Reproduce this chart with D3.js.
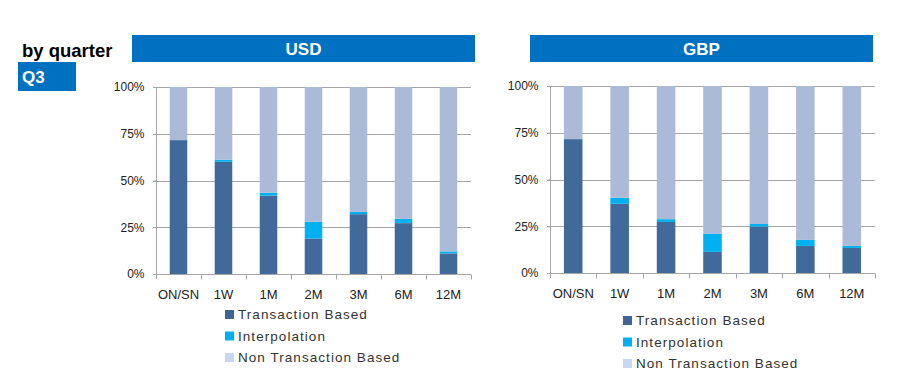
<!DOCTYPE html>
<html><head><meta charset="utf-8">
<script src="https://cdn.jsdelivr.net/npm/d3@7"></script>
<style>body{margin:0;background:#fff;}svg{display:block;}</style>
</head><body><svg id="c" width="914" height="381"></svg>
<script>
const categories = ["ON/SN","1W","1M","2M","3M","6M","12M"];
const seriesNames = ["Transaction Based","Interpolation","Non Transaction Based"];
const yTicks = [0, 25, 50, 75, 100];
const usdTransaction = [71.6, 60.0, 41.9, 19.0, 32.0, 27.2, 11.0];
const usdInterpolation = [0, 1.1, 1.6, 8.9, 1.2, 2.3, 1.1];
const gbpTransaction = [71.6, 37.0, 27.3, 11.3, 24.8, 14.5, 13.4];
const gbpInterpolation = [0, 3.2, 1.5, 9.8, 1.4, 3.2, 1.1];

const colors = ["#416A9B", "#00B0F0", "#AABAD7"];
const legendColors = ["#3F6497", "#00B0F0", "#C6D7EF"];
const font = "'Liberation Sans', Arial, sans-serif";
const svg = d3.select("#c");

// header
svg.append("text").attr("x", 22).attr("y", 57).attr("font-family", font)
  .attr("font-weight", "bold").attr("font-size", 18.5).attr("fill", "#000").text("by quarter");
svg.append("rect").attr("x", 18).attr("y", 62).attr("width", 58).attr("height", 29).attr("fill", "#0070C0");
svg.append("text").attr("x", 22).attr("y", 83).attr("font-family", font)
  .attr("font-weight", "bold").attr("font-size", 17).attr("fill", "#fff").text("Q3");

function drawChart(cfg) {
  const { title, trans, interp, hx0, hx1, x0, x1, yTop, yBot, barFrac, legX, legY } = cfg;
  const data = categories.map((c, i) => ({
    cat: c,
    t: trans[i],
    i: interp[i],
    n: 100 - trans[i] - interp[i]
  }));
  const stack = d3.stack().keys(["t", "i", "n"])(data);
  const x = d3.scaleBand().domain(categories).range([x0, x1]).paddingInner(0).paddingOuter(0);
  const y = d3.scaleLinear().domain([0, 100]).range([yBot, yTop]);

  // title bar
  svg.append("rect").attr("x", hx0).attr("y", 35).attr("width", hx1 - hx0).attr("height", 27).attr("fill", "#0070C0");
  svg.append("text").attr("x", (hx0 + hx1) / 2).attr("y", 55).attr("text-anchor", "middle")
    .attr("font-family", font).attr("font-weight", "bold").attr("font-size", 17).attr("fill", "#fff").text(title);

  // gridlines
  const g = svg.append("g");
  g.selectAll("line.grid").data(yTicks.filter(d => d > 0)).join("line")
    .attr("x1", x0 - 3).attr("x2", x1).attr("y1", d => Math.round(y(d)) + 0.5).attr("y2", d => Math.round(y(d)) + 0.5)
    .attr("stroke", "#A6A6A6").attr("stroke-width", 1);

  // bars
  const bw = x.bandwidth() * barFrac;
  stack.forEach((layer, li) => {
    g.append("g").selectAll("rect").data(layer).join("rect")
      .attr("x", d => x(d.data.cat) + (x.bandwidth() - bw) / 2)
      .attr("width", bw)
      .attr("y", d => y(d[1]))
      .attr("height", d => Math.max(0, y(d[0]) - y(d[1])))
      .attr("fill", colors[li]);
  });

  // y axis
  const yAxis = d3.axisLeft(y).tickValues(yTicks).tickSize(3).tickPadding(9).tickFormat(d => d + "%");
  const ya = svg.append("g").attr("transform", `translate(${x0 + 0.5},0)`).call(yAxis);
  ya.select(".domain").attr("stroke", "#A6A6A6").attr("d", `M0,${yTop}V${yBot + 5}`);
  ya.selectAll(".tick line").attr("stroke", "#A6A6A6");
  ya.selectAll(".tick text").attr("font-family", font).attr("font-size", 12).attr("fill", "#222");

  // x axis
  const xa = svg.append("g").attr("transform", `translate(0,${Math.round(yBot) + 0.5})`);
  xa.append("line").attr("x1", x0 - 3).attr("x2", x1).attr("stroke", "#A6A6A6");
  xa.selectAll("line.tk").data(categories).join("line")
    .attr("x1", d => Math.round(x(d) + x.bandwidth()) + 0.5).attr("x2", d => Math.round(x(d) + x.bandwidth()) + 0.5)
    .attr("y1", 0).attr("y2", 5).attr("stroke", "#A6A6A6");
  xa.selectAll("text").data(categories).join("text")
    .attr("x", d => x(d) + x.bandwidth() / 2).attr("y", 24).attr("text-anchor", "middle")
    .attr("font-family", font).attr("font-size", 13).attr("fill", "#222").text(d => d);

  // legend
  const lg = svg.append("g").attr("transform", `translate(${legX},${legY})`);
  seriesNames.forEach((s, i) => {
    lg.append("rect").attr("x", 0).attr("y", i * 21.5 - 4).attr("width", 9).attr("height", 9).attr("fill", legendColors[i]);
    lg.append("text").attr("x", 13).attr("y", i * 21.5 + 5).attr("font-family", font)
      .attr("font-size", 13.5).attr("letter-spacing", 1.05).attr("fill", "#333").text(s);
  });
}

drawChart({ title: "USD", trans: usdTransaction, interp: usdInterpolation, hx0: 132, hx1: 475,
  x0: 156, x1: 471, yTop: 87, yBot: 274, barFrac: 0.39, legX: 225, legY: 314 });
drawChart({ title: "GBP", trans: gbpTransaction, interp: gbpInterpolation, hx0: 530, hx1: 873,
  x0: 550, x1: 875, yTop: 86, yBot: 273, barFrac: 0.40, legX: 623, legY: 320 });
</script></body></html>
